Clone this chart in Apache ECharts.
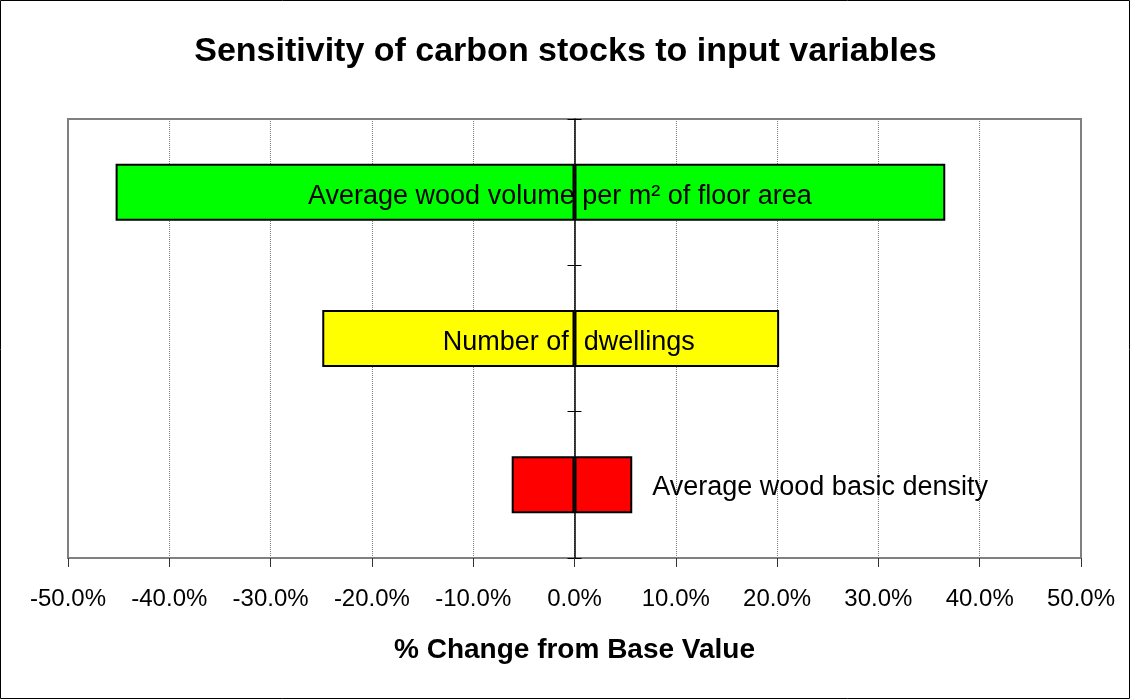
<!DOCTYPE html>
<html>
<head>
<meta charset="utf-8">
<script src="https://cdn.jsdelivr.net/npm/echarts@6/dist/echarts.min.js"></script>
<style>
  html, body { margin: 0; padding: 0; background: #fff; }
  #chart { width: 1131px; height: 700px; }
</style>
</head>
<body>
<div id="chart"></div>
<script>
// Input variables, bottom to top as they sit on the category axis
const variables = [
  'Average wood basic density',
  'Number of  dwellings',
  'Average wood volume per m\u00B2 of floor area'
];
// Percentage change in carbon stocks for the low and high case of each variable
const lowChange = [-6.2, -24.9, -45.3];
const highChange = [5.7, 20.2, 36.6];
const barColors = ['#ff0000', '#ffff00', '#00ff00'];
const xTicks = { min: -50, max: 50, step: 10 };

const FONT = '"Liberation Sans", Arial, sans-serif';

// Where each variable's name is drawn relative to its high-case bar
const labelPlacement = [
  { position: 'right', distance: 20, offset: [0, 3] },
  { position: 'inside', offset: [-108, 4] },
  { position: 'inside', offset: [-200, 4] }
];

const GRID = { left: 68, right: 50, top: 119, bottom: 142 };

const chart = echarts.init(document.getElementById('chart'), null, { renderer: 'canvas' });

const lowData = lowChange.map((v, i) => ({
  value: v,
  itemStyle: { color: barColors[i] }
}));
const highData = highChange.map((v, i) => ({
  value: v,
  itemStyle: { color: barColors[i] },
  label: Object.assign({
    show: true,
    formatter: variables[i],
    color: '#000',
    fontSize: 27,
    fontFamily: FONT
  }, labelPlacement[i])
}));

chart.setOption({
  animation: false,
  backgroundColor: '#fff',
  title: {
    text: 'Sensitivity of carbon stocks to input variables',
    left: 'center',
    top: 30,
    textStyle: { fontFamily: FONT, fontSize: 34, fontWeight: 'bold', color: '#000' }
  },
  graphic: [{
    type: 'rect',
    shape: { x: 0.5, y: 0.5, width: 1129, height: 698 },
    style: { fill: 'none', stroke: '#000', lineWidth: 1 },
    silent: true,
    z: 100
  }],
  // Grid 0 holds the bars; grid 1 overlays it only to carry the
  // right-hand half of the ticks that cross the zero line.
  grid: [
    Object.assign({
      show: true,
      borderColor: '#808080',
      borderWidth: 2,
      backgroundColor: 'transparent'
    }, GRID),
    Object.assign({ show: false }, GRID)
  ],
  xAxis: [
    {
      gridIndex: 0,
      type: 'value',
      min: xTicks.min,
      max: xTicks.max,
      interval: xTicks.step,
      name: '% Change from Base Value',
      nameLocation: 'middle',
      nameGap: 78,
      nameTextStyle: { fontFamily: FONT, fontSize: 28, fontWeight: 'bold', color: '#000' },
      axisLine: { onZero: false, lineStyle: { color: '#4d4d4d', width: 2.5 } },
      axisTick: { show: true, length: 9, lineStyle: { color: '#333', width: 1 } },
      axisLabel: {
        margin: 29,
        fontFamily: FONT,
        fontSize: 24,
        color: '#000',
        formatter: v => v.toFixed(1) + '%'
      },
      splitLine: { show: true, lineStyle: { color: '#808080', type: 'dotted', width: 1 } }
    },
    {
      gridIndex: 1,
      type: 'value',
      min: xTicks.min,
      max: xTicks.max,
      interval: xTicks.step,
      show: false
    }
  ],
  yAxis: [
    {
      gridIndex: 0,
      type: 'category',
      data: variables,
      axisLine: { onZero: true, lineStyle: { color: '#000', width: 1.5 } },
      axisTick: { show: true, length: 7, inside: false, lineStyle: { color: '#000', width: 1 } },
      axisLabel: { show: false },
      splitLine: { show: false }
    },
    {
      gridIndex: 1,
      type: 'category',
      data: variables,
      axisLine: { show: false, onZero: true },
      axisTick: { show: true, length: 7, inside: true, lineStyle: { color: '#000', width: 1 } },
      axisLabel: { show: false },
      splitLine: { show: false }
    }
  ],
  series: [
    {
      name: 'Low',
      type: 'bar',
      stack: 'change',
      barWidth: 57,
      data: lowData,
      itemStyle: { borderColor: '#000', borderWidth: 2 },
      z: 3
    },
    {
      name: 'High',
      type: 'bar',
      stack: 'change',
      barWidth: 57,
      data: highData,
      itemStyle: { borderColor: '#000', borderWidth: 2 },
      z: 3
    }
  ]
});
</script>
</body>
</html>
